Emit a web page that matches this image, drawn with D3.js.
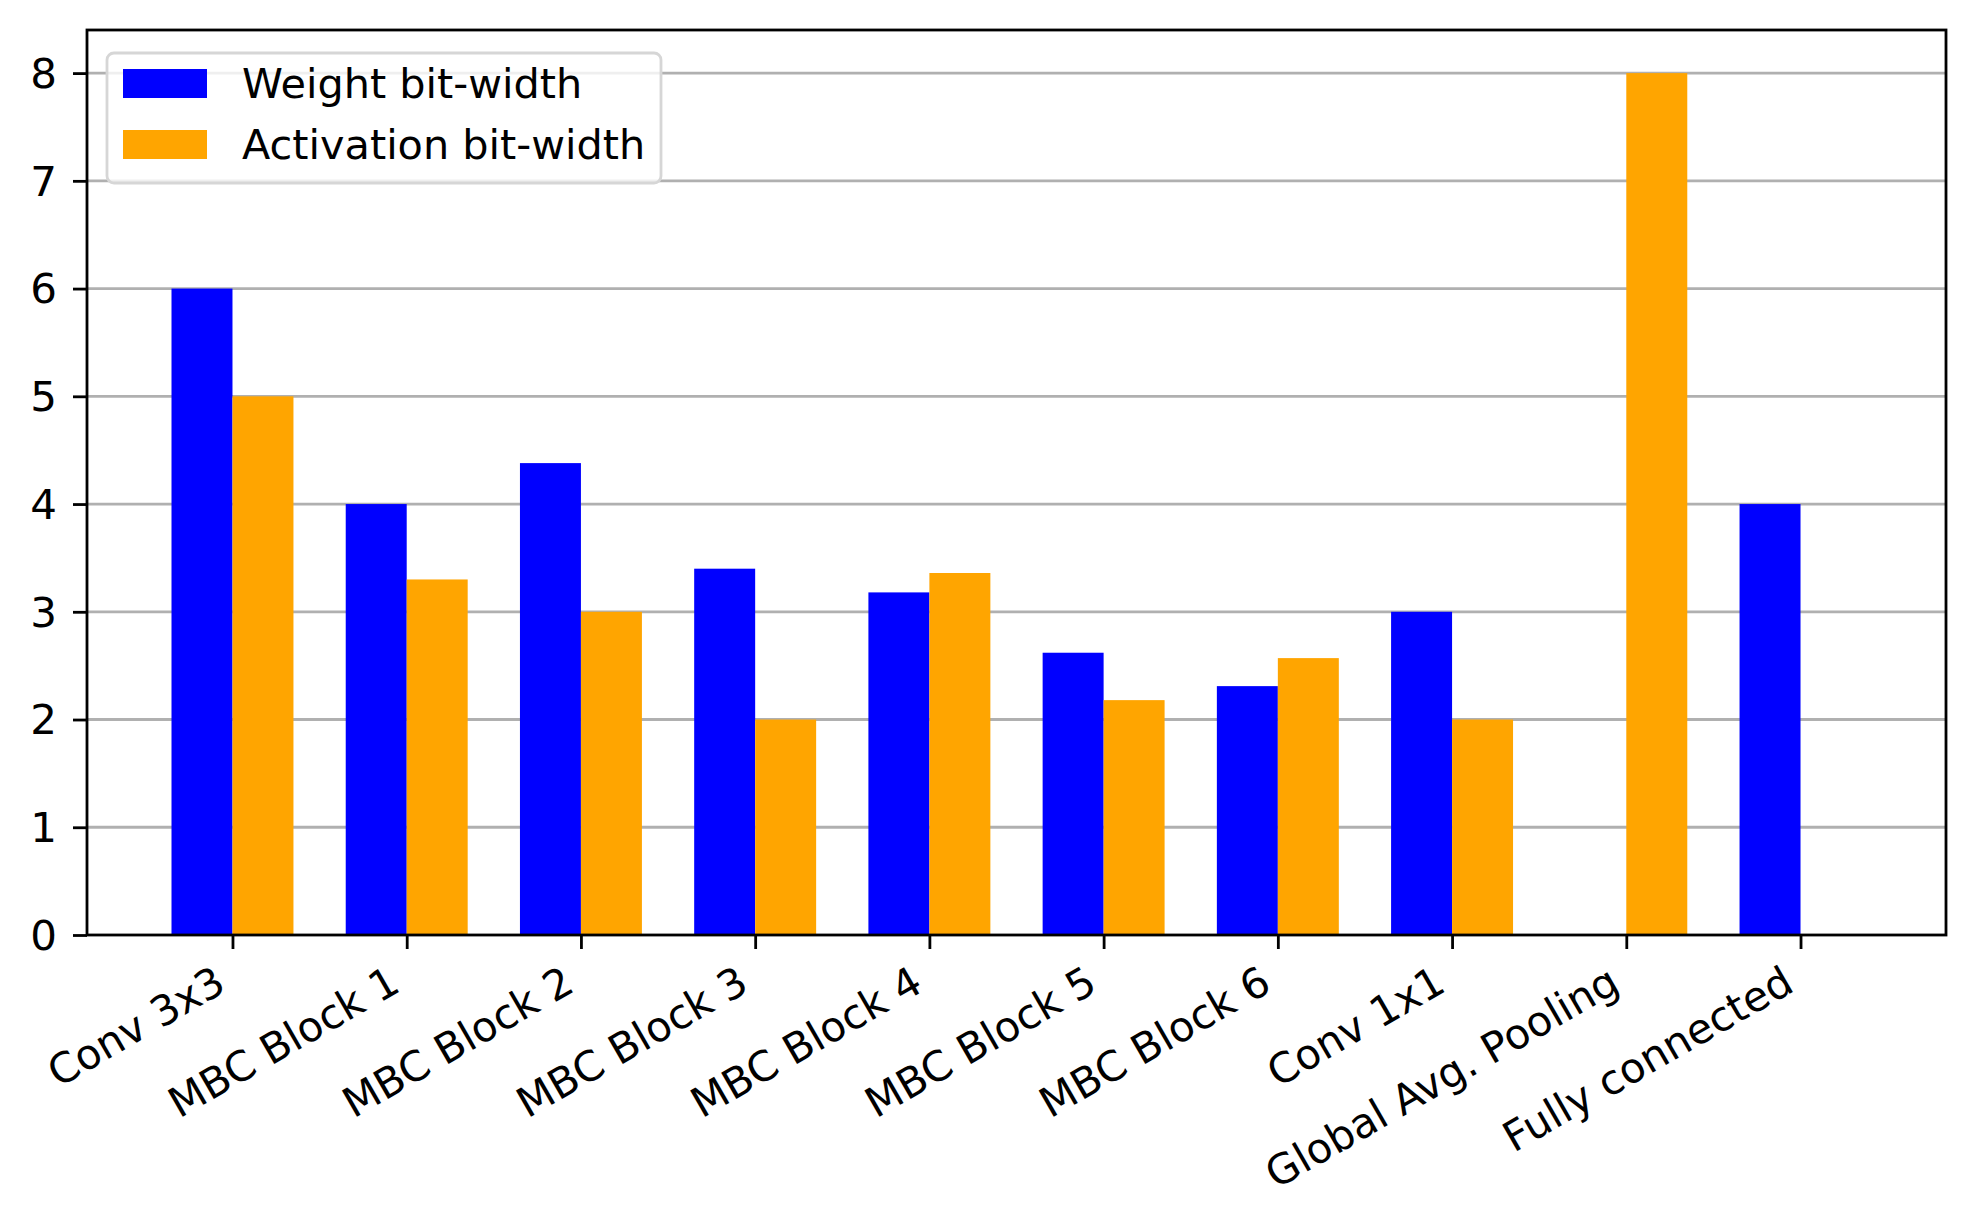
<!DOCTYPE html>
<html><head><meta charset="utf-8">
<script src="https://cdn.jsdelivr.net/npm/d3@7"></script>
<style>body{margin:0;background:#fff}svg{display:block}text{font-family:"DejaVu Sans",sans-serif}</style>
</head><body>
<script>
const categories = ["Conv 3x3","MBC Block 1","MBC Block 2","MBC Block 3","MBC Block 4","MBC Block 5","MBC Block 6","Conv 1x1","Global Avg. Pooling","Fully connected"];
const weightBits = [6, 4, 4.38, 3.4, 3.18, 2.62, 2.31, 3, null, 4];
const activationBits = [5, 3.3, 3, 2, 3.36, 2.18, 2.57, 2, 8, null];
const yTicks = [0,1,2,3,4,5,6,7,8];
const seriesNames = ["Weight bit-width","Activation bit-width"];
const colors = ["#0000ff","#ffa500"];

const W = 1975, H = 1229;
const L = 87, R = 1946, T = 30, B = 935;
const barW = 0.35;
const FS = 41.5;
const svg = d3.select("body").append("svg").attr("width", W).attr("height", H);
const x = d3.scaleLinear().domain([-0.835, 9.835]).range([L, R]);
const y = d3.scaleLinear().domain([0, 8.4]).range([B, T]);

// grid
svg.append("g").selectAll("line").data(yTicks.filter(d=>d>0)).join("line")
  .attr("x1", L).attr("x2", R).attr("y1", d=>y(d)).attr("y2", d=>y(d))
  .attr("stroke", "#b0b0b0").attr("stroke-width", 2.8);

// bars
const series = [weightBits, activationBits];
series.forEach((vals, s) => {
  svg.append("g").selectAll("rect").data(vals.map((v,i)=>({v,i})).filter(d=>d.v!=null)).join("rect")
    .attr("x", d => x(d.i + (s===0 ? -barW : 0)))
    .attr("width", d => x(d.i + barW) - x(d.i))
    .attr("y", d => y(d.v))
    .attr("height", d => y(0) - y(d.v))
    .attr("fill", colors[s]);
});

// y axis
const yAxis = d3.axisLeft(y).tickValues(yTicks).tickSize(14).tickFormat(d3.format("d"));
const gy = svg.append("g").attr("transform", `translate(${L},0)`).call(yAxis);
gy.select(".domain").remove();
gy.selectAll(".tick line").attr("stroke", "#000").attr("stroke-width", 2.8);
gy.selectAll(".tick text").attr("font-size", 40).attr("fill", "#000").attr("font-family", "DejaVu Sans")
  .attr("x", null).attr("dy", "0.36em").attr("text-anchor", "end")
  .attr("transform", `translate(-30,0) scale(1.05,1)`);

// x axis
const xAxis = d3.axisBottom(x).tickValues(d3.range(categories.length)).tickSize(14).tickFormat(i => categories[i]);
const gx = svg.append("g").attr("transform", `translate(0,${B})`).call(xAxis);
gx.select(".domain").remove();
gx.selectAll(".tick line").attr("stroke", "#000").attr("stroke-width", 2.8);
gx.selectAll(".tick text").attr("font-size", FS).attr("fill", "#000").attr("font-family", "DejaVu Sans")
  .attr("text-anchor", "end").attr("y", 0).attr("dy", 0)
  .attr("transform", `translate(-5,55) rotate(-30)`);

// frame
svg.append("rect").attr("x", L).attr("y", T).attr("width", R-L).attr("height", B-T)
  .attr("fill", "none").attr("stroke", "#000").attr("stroke-width", 2.8);

// legend
const lg = svg.append("g");
lg.append("rect").attr("x", 107).attr("y", 53).attr("width", 554).attr("height", 130).attr("rx", 7)
  .attr("fill", "#fff").attr("fill-opacity", 0.8).attr("stroke", "#d6d6d6").attr("stroke-width", 2.8);
seriesNames.forEach((n, i) => {
  lg.append("rect").attr("x", 123).attr("y", 69 + i*61).attr("width", 84).attr("height", 29).attr("fill", colors[i]);
  lg.append("text").attr("transform", `translate(242,${98 + i*61}) scale(1.035,1)`)
    .attr("font-size", 40).attr("fill", "#000").text(n);
});
</script>
</body></html>
